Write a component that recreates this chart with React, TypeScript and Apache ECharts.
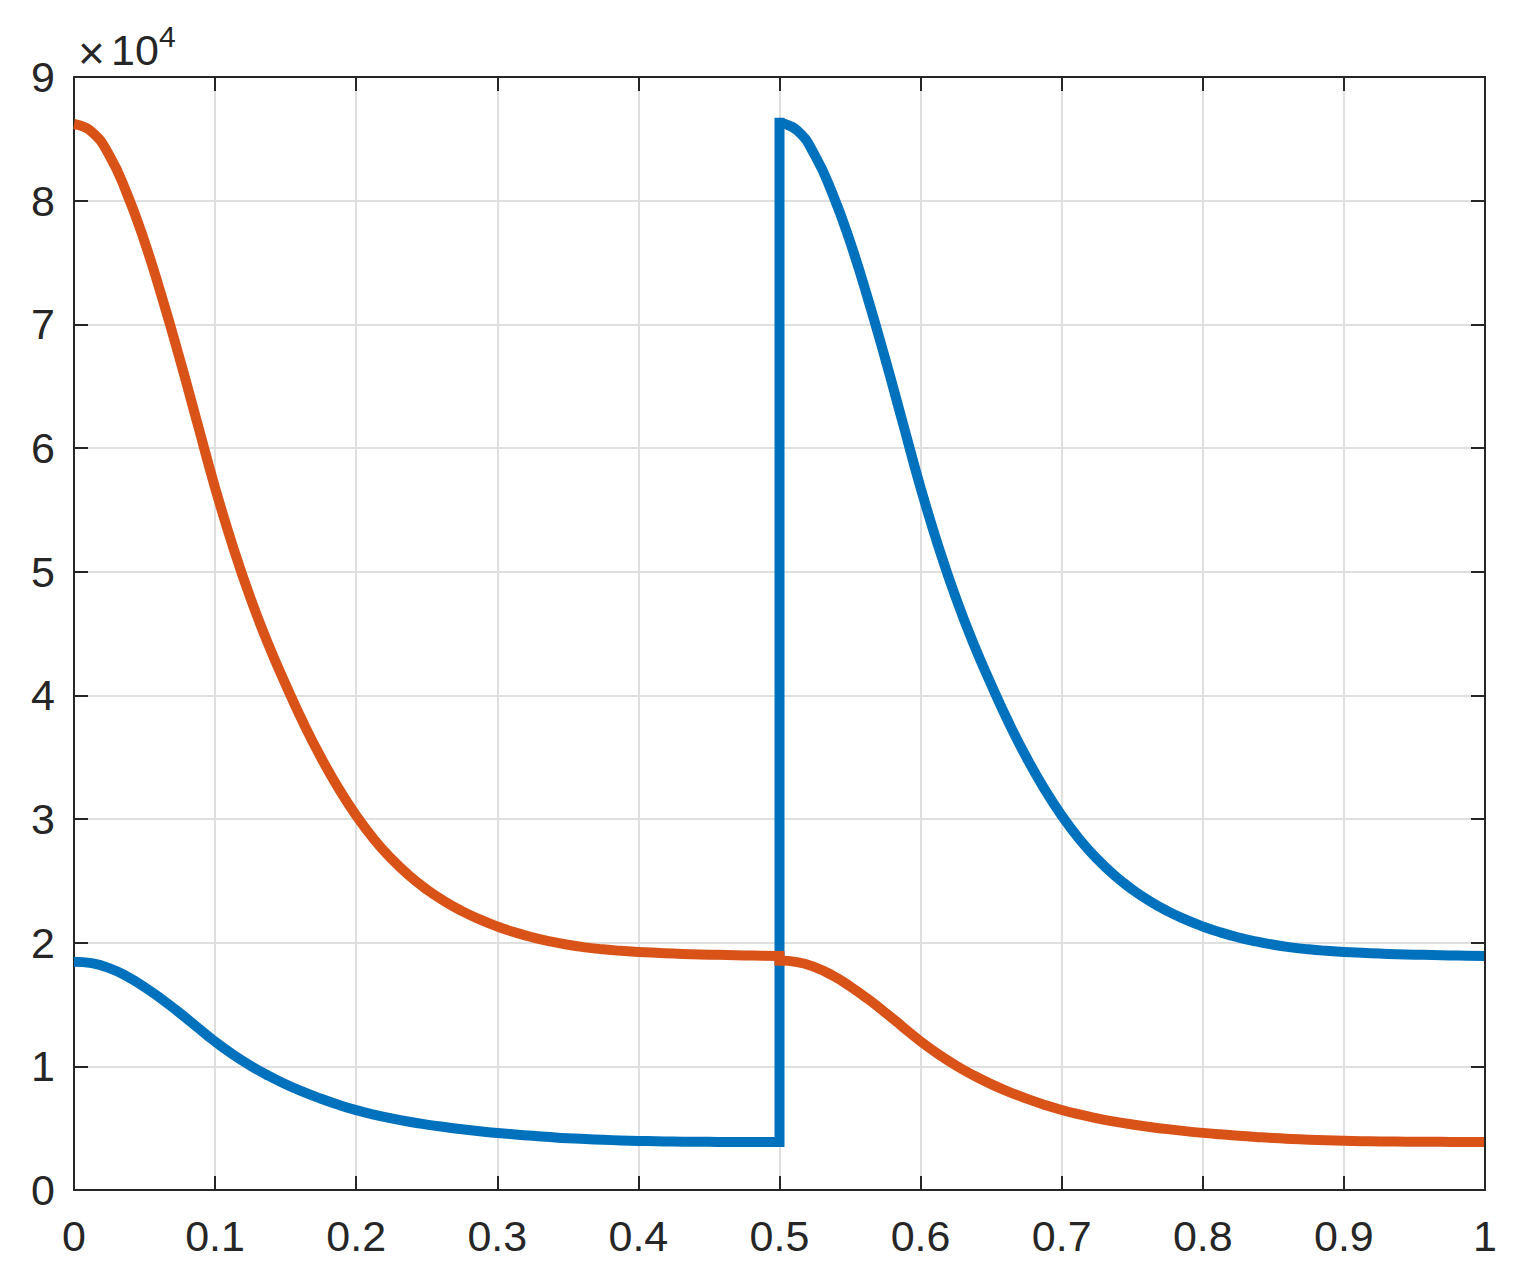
import React, { useEffect, useRef } from "react";
import * as echarts from "echarts";

// x positions (first half, second half)
const xFirst = [0, 0.0125, 0.025, 0.0375, 0.05, 0.0625, 0.075, 0.0875, 0.1, 0.1125, 0.125, 0.1375, 0.15, 0.1625, 0.175, 0.1875, 0.2, 0.2125, 0.225, 0.2375, 0.25, 0.2625, 0.275, 0.2875, 0.3, 0.3125, 0.325, 0.3375, 0.35, 0.3625, 0.375, 0.3875, 0.4, 0.4125, 0.425, 0.4375, 0.45, 0.4625, 0.475, 0.4875, 0.5];
const xSecond = [0.5, 0.5125, 0.525, 0.5375, 0.55, 0.5625, 0.575, 0.5875, 0.6, 0.6125, 0.625, 0.6375, 0.65, 0.6625, 0.675, 0.6875, 0.7, 0.7125, 0.725, 0.7375, 0.75, 0.7625, 0.775, 0.7875, 0.8, 0.8125, 0.825, 0.8375, 0.85, 0.8625, 0.875, 0.8875, 0.9, 0.9125, 0.925, 0.9375, 0.95, 0.9625, 0.975, 0.9875, 1.0];

// series values
const blueFirst = [18460, 18340, 17940, 17280, 16410, 15410, 14310, 13150, 12000, 10970, 10060, 9260, 8550, 7930, 7380, 6890, 6460, 6100, 5790, 5520, 5290, 5090, 4910, 4750, 4610, 4490, 4380, 4280, 4190, 4120, 4060, 4010, 3970, 3940, 3920, 3905, 3895, 3887, 3881, 3877, 3875];
const blueJump = [3875, 86300];
const blueSecond = [86300, 85680, 83680, 80580, 76680, 72130, 67180, 61980, 56780, 52080, 47880, 44180, 40880, 37780, 34980, 32480, 30280, 28380, 26780, 25430, 24300, 23350, 22550, 21880, 21310, 20830, 20430, 20100, 19830, 19620, 19460, 19340, 19250, 19180, 19120, 19070, 19030, 19000, 18970, 18950, 18930];
const orangeFirst = [86200, 85580, 83680, 80580, 76680, 72130, 67180, 61980, 56780, 52080, 47880, 44180, 40880, 37780, 34980, 32480, 30280, 28380, 26780, 25430, 24300, 23350, 22550, 21880, 21310, 20830, 20430, 20100, 19830, 19620, 19460, 19340, 19250, 19180, 19120, 19070, 19030, 19000, 18970, 18950, 18930];
const orangeSecond = [18550, 18430, 18020, 17350, 16470, 15460, 14350, 13180, 12020, 10980, 10070, 9270, 8560, 7940, 7390, 6900, 6470, 6110, 5800, 5530, 5300, 5100, 4920, 4760, 4620, 4500, 4390, 4290, 4200, 4130, 4070, 4020, 3980, 3950, 3930, 3915, 3905, 3897, 3890, 3885, 3880];

const xTickLabels = ["0", "0.1", "0.2", "0.3", "0.4", "0.5", "0.6", "0.7", "0.8", "0.9", "1"];
const yTickLabels = ["0", "1", "2", "3", "4", "5", "6", "7", "8", "9"];

const BLUE = "#0072BD";
const ORANGE = "#D95319";
const AX = "#262626";
const GRIDC = "#dfdfdf";
const FONT = "Liberation Sans, Arial, sans-serif";

function pairs(xs: number[], ys: number[]) {
  return xs.map((x, i) => [x, ys[i]]);
}

export default function App() {
  const ref = useRef<HTMLDivElement>(null);
  useEffect(() => {
    document.body.style.margin = "0";
    const chart = echarts.init(ref.current!, null, { renderer: "svg" });
    const tick = { inside: true, length: 14, lineStyle: { color: AX, width: 2 } };
    const axLine = { show: true, onZero: false, lineStyle: { color: AX, width: 2 } };
    const lineSeries = (data: number[][], color: string, smooth: number | boolean, z: number, cap: string) => ({
      type: "line",
      data,
      smooth,
      showSymbol: false,
      symbol: "none",
      xAxisIndex: 0,
      yAxisIndex: 0,
      z,
      clip: false,
      lineStyle: { color, width: 10, cap, join: "round" },
      itemStyle: { color },
      emphasis: { disabled: true },
    });
    chart.setOption({
      animation: false,
      backgroundColor: "#ffffff",
      grid: { left: 74, right: 37, top: 77, bottom: 96, containLabel: false },
      xAxis: [
        {
          type: "value",
          min: 0,
          max: 1,
          interval: 0.1,
          position: "bottom",
          axisLine: axLine,
          axisTick: tick,
          splitLine: { show: true, lineStyle: { color: GRIDC, width: 2 } },
          axisLabel: {
            fontSize: 43,
            color: AX,
            fontFamily: FONT,
            margin: 24,
            formatter: (v: number) => xTickLabels[Math.round(v * 10)] ?? "",
          },
        },
        {
          type: "value",
          min: 0,
          max: 1,
          interval: 0.1,
          position: "top",
          z: 6,
          axisLine: axLine,
          axisTick: tick,
          splitLine: { show: false },
          axisLabel: { show: false },
        },
      ],
      yAxis: [
        {
          type: "value",
          min: 0,
          max: 90000,
          interval: 10000,
          position: "left",
          axisLine: axLine,
          axisTick: tick,
          splitLine: { show: true, lineStyle: { color: GRIDC, width: 2 } },
          axisLabel: {
            fontSize: 43,
            color: AX,
            fontFamily: FONT,
            margin: 19,
            formatter: (v: number) => yTickLabels[Math.round(v / 10000)] ?? "",
          },
        },
        {
          type: "value",
          min: 0,
          max: 90000,
          interval: 10000,
          position: "right",
          z: 6,
          axisLine: axLine,
          axisTick: tick,
          splitLine: { show: false },
          axisLabel: { show: false },
        },
      ],
      series: [
        lineSeries(pairs(xFirst, blueFirst), BLUE, 0.5, 2, "butt"),
        lineSeries([[0.5, blueJump[0]], [0.5, blueJump[1]]], BLUE, false, 2, "square"),
        lineSeries(pairs(xSecond, blueSecond), BLUE, 0.5, 2, "butt"),
        lineSeries(pairs(xFirst, orangeFirst), ORANGE, 0.5, 3, "butt"),
        lineSeries([[0.5, orangeFirst[orangeFirst.length - 1]], [0.5, orangeSecond[0]]], ORANGE, false, 3, "square"),
        lineSeries(pairs(xSecond, orangeSecond), ORANGE, 0.5, 3, "butt"),
      ],
      graphic: [
        {
          type: "text",
          left: 78,
          top: 30,
          z: 10,
          style: { text: "×", fontSize: 46, fill: AX, fontFamily: FONT },
        },
        {
          type: "text",
          left: 111,
          top: 28,
          z: 10,
          style: { text: "10", fontSize: 43, fill: AX, fontFamily: FONT },
        },
        {
          type: "text",
          left: 159,
          top: 21,
          z: 10,
          style: { text: "4", fontSize: 30, fill: AX, fontFamily: FONT },
        },
      ],
    });
    return () => chart.dispose();
  }, []);
  return <div ref={ref} style={{ width: 1522, height: 1286 }} />;
}
